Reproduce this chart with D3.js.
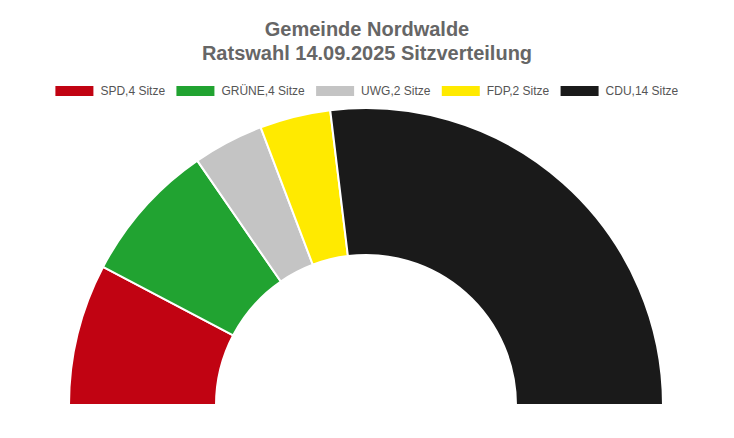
<!DOCTYPE html>
<html>
<head>
<meta charset="utf-8">
<script src="https://cdn.jsdelivr.net/npm/d3@7"></script>
<style>
  body { margin: 0; background: #fff; }
  svg text { font-family: "Liberation Sans", Arial, sans-serif; }
</style>
</head>
<body>
<div id="chart"></div>
<script>
var parties = ['SPD', 'GRÜNE', 'UWG', 'FDP', 'CDU'];
var seats = [4, 4, 2, 2, 14];
var colors = ['#c10312', '#21a331', '#c4c4c4', '#ffea00', '#1a1a1a'];
var titleLines = ['Gemeinde Nordwalde', 'Ratswahl 14.09.2025 Sitzverteilung'];

var width = 734, height = 438;

var chart = {
  center : { x : 366, y : 405 },
  outer : 297,
  inner : 150
};

var svg = d3.select('#chart').append('svg')
  .attr('width', width)
  .attr('height', height);

// title
svg.selectAll('text.title')
  .data(titleLines)
  .enter().append('text')
  .attr('class', 'title')
  .attr('x', width / 2)
  .attr('y', function(d, i){ return 36 + i * 24; })
  .attr('text-anchor', 'middle')
  .attr('font-size', '20px')
  .attr('font-weight', 'bold')
  .attr('fill', '#666')
  .text(function(d){ return d; });

// legend, centered row
var legend = svg.append('g').attr('class', 'legend');
var items = legend.selectAll('g')
  .data(parties)
  .enter().append('g');

items.append('rect')
  .attr('width', 38)
  .attr('height', 10)
  .attr('y', 86)
  .attr('fill', function(d, i){ return colors[i]; });

items.append('text')
  .attr('x', 45)
  .attr('y', 95)
  .attr('font-size', '12px')
  .attr('fill', '#555')
  .text(function(d, i){ return d + ',' + seats[i] + ' Sitze'; });

var xpos = 0;
items.each(function(){
  var w = this.getBBox().width;
  d3.select(this).attr('transform', 'translate(' + xpos + ',0)');
  xpos += w + 11;
});
var total_w = xpos - 11;
legend.attr('transform', 'translate(' + ((width - total_w) / 2) + ',0)');

// half donut
var pie = d3.pie()
  .sort(null)
  .startAngle(-Math.PI / 2)
  .endAngle(Math.PI / 2);

var arc = d3.arc()
  .innerRadius(chart.inner)
  .outerRadius(chart.outer);

svg.append('g')
  .attr('transform', 'translate(' + chart.center.x + ',' + chart.center.y + ')')
  .selectAll('path')
  .data(pie(seats))
  .enter().append('path')
  .attr('d', arc)
  .attr('fill', function(d, i){ return colors[i]; })
  .attr('stroke', '#fff')
  .attr('stroke-width', 2)
  .attr('stroke-linejoin', 'round');
</script>
</body>
</html>
